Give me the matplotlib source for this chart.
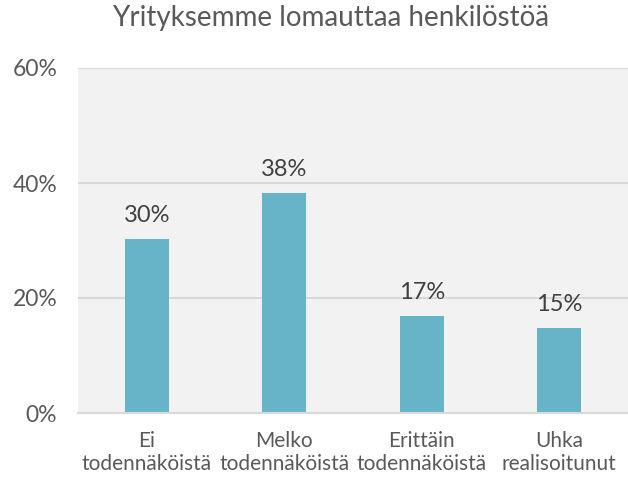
import matplotlib
matplotlib.use("Agg")
import matplotlib.pyplot as plt
from matplotlib.ticker import FuncFormatter

categories = ["Ei\ntodennäköistä", "Melko\ntodennäköistä", "Erittäin\ntodennäköistä", "Uhka\nrealisoitunut"]
values = [30.3, 38.3, 16.9, 14.8]
yticks = [0, 20, 40, 60]
title = "Yrityksemme lomauttaa henkilöstöä"

plt.rcParams['font.family'] = ['Lato', 'DejaVu Sans']

fig = plt.figure(figsize=(6.28, 4.78), dpi=100)
ax = fig.add_axes([78/628, 65/478, 550/628, 345/478])
ax.set_facecolor("#f2f2f2")
x = list(range(len(categories)))
bars = ax.bar(x, values, width=0.32, color="#67b4c8", zorder=3)
for xi, v in zip(x, values):
    ax.text(xi, v + 2.3, f"{v:.0f}%", ha="center", va="bottom", fontsize=17, color="#404040")
ax.set_xlim(-0.5, 3.5)
ax.set_ylim(0, 60)
ax.set_yticks(yticks)
ax.yaxis.set_major_formatter(FuncFormatter(lambda v, p: f"{v:.0f}%"))
ax.set_xticks(x)
ax.set_xticklabels(categories)
ax.grid(axis="y", color="#d9d9d9", linewidth=1.5, zorder=1)
for s in ["top", "right", "left"]:
    ax.spines[s].set_visible(False)
ax.spines["bottom"].set_color("#d9d9d9")
ax.spines["bottom"].set_linewidth(1.5)
ax.spines["bottom"].set_zorder(4)
ax.tick_params(axis="x", length=0, labelsize=15, colors="#595959", pad=13)
ax.tick_params(axis="y", length=0, labelsize=16.5, colors="#595959", pad=15)
ax.set_axisbelow(True)
fig.text(0.527, 0.962, title, ha="center", va="center", fontsize=20, color="#595959")
fig.savefig("out.png", dpi=100, facecolor="white")
